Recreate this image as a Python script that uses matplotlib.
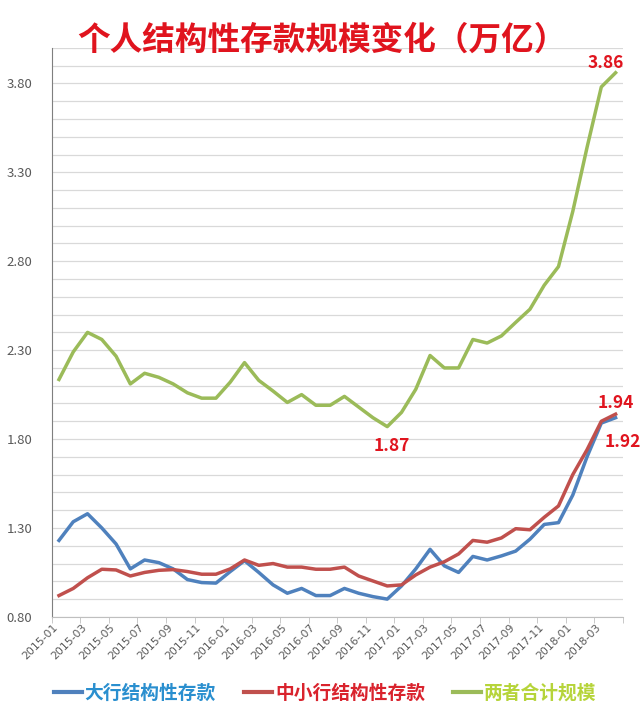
import matplotlib.pyplot as plt
from matplotlib.ticker import MultipleLocator, FixedLocator
import matplotlib.transforms as mtransforms

plt.rcParams['font.family'] = ['Noto Sans CJK SC', 'DejaVu Sans']

months = [f"{y}-{m:02d}" for y in range(2015, 2019) for m in range(1, 13)][:40]

big_banks = [1.23, 1.335, 1.38, 1.30, 1.21, 1.07, 1.12, 1.105, 1.07, 1.01,
             0.993, 0.99, 1.055, 1.116, 1.05, 0.98, 0.933, 0.96, 0.92, 0.92,
             0.96, 0.933, 0.914, 0.90, 0.974, 1.07, 1.18, 1.087, 1.05, 1.14,
             1.12, 1.143, 1.17, 1.237, 1.32, 1.33, 1.485, 1.70, 1.89, 1.92]
small_banks = [0.92, 0.96, 1.02, 1.068, 1.064, 1.03, 1.05, 1.062, 1.066, 1.055,
               1.04, 1.04, 1.07, 1.12, 1.09, 1.10, 1.08, 1.08, 1.068, 1.068,
               1.08, 1.03, 1.002, 0.974, 0.98, 1.036, 1.08, 1.11, 1.154, 1.23,
               1.22, 1.244, 1.296, 1.29, 1.36, 1.424, 1.60, 1.74, 1.90, 1.94]
total = [2.135, 2.29, 2.40, 2.36, 2.266, 2.11, 2.17, 2.147, 2.11, 2.06,
         2.03, 2.03, 2.12, 2.23, 2.13, 2.07, 2.006, 2.05, 1.99, 1.99,
         2.04, 1.98, 1.92, 1.87, 1.95, 2.08, 2.27, 2.20, 2.20, 2.36,
         2.34, 2.38, 2.456, 2.53, 2.665, 2.77, 3.08, 3.44, 3.78, 3.86]

series_names = ['大行结构性存款', '中小行结构性存款', '两者合计规模']
line_colors = ['#4f81bd', '#c0504d', '#9bbb59']
text_colors = ['#2a8fcf', '#d9232d', '#b6d43a']
red = '#e0141e'

fig = plt.figure(figsize=(6.4, 7.14), dpi=100)
ax = fig.add_axes([0.081, 0.136, 0.892, 0.797])

x = list(range(len(months)))
for vals, name, c in zip([big_banks, small_banks, total], series_names, line_colors):
    ax.plot(x, vals, color=c, lw=2.5, label=name)

ax.set_xlim(-0.5, len(months) - 0.5)
ax.set_ylim(0.8, 4.0)

ax.yaxis.set_minor_locator(MultipleLocator(0.1))
ax.set_yticks([0.8 + 0.5 * k for k in range(7)])
ax.set_yticklabels([f"{0.8 + 0.5 * k:.2f}" for k in range(7)])
ax.grid(axis='y', which='both', color='#d9d9d9', lw=0.9)
ax.set_axisbelow(True)
ax.tick_params(axis='y', which='both', length=0, pad=14, labelsize=9.5, labelcolor='#595959')

ax.set_xticks(x[::2])
ax.set_xticklabels(months[::2], rotation=45, ha='right', va='top',
                   rotation_mode='anchor', fontsize=7.8, color='#595959',
                   family='DejaVu Sans')
ax.xaxis.set_minor_locator(FixedLocator([i - 0.5 for i in range(0, len(months) + 1, 2)]))
ax.tick_params(axis='x', which='major', length=0, pad=4)
ax.tick_params(axis='x', which='minor', length=4, color='#bfbfbf')
offset = mtransforms.ScaledTranslation(-6 / 100, 0, fig.dpi_scale_trans)
for lbl in ax.get_xticklabels():
    lbl.set_transform(lbl.get_transform() + offset)

for side in ['top', 'right']:
    ax.spines[side].set_visible(False)
ax.spines['left'].set_color('#7f7f7f')
ax.spines['bottom'].set_color('#bfbfbf')

ann = dict(color=red, fontsize=12.5, fontweight='bold', ha='center', va='center',
           textcoords='offset pixels')
ax.annotate(f"{total[-1]:.2f}", (x[-1], total[-1]), xytext=(-10, 10), **ann)
imin = total.index(min(total))
ax.annotate(f"{total[imin]:.2f}", (x[imin], total[imin]), xytext=(5, -19), **ann)
ax.annotate(f"{small_banks[-1]:.2f}", (x[-1], small_banks[-1]), xytext=(0, 11), **ann)
ax.annotate(f"{big_banks[-1]:.2f}", (x[-1], big_banks[-1]), xytext=(7, -24), **ann)

fig.text(0.503, 0.944, '个人结构性存款规模变化（万亿）', ha='center', va='center',
         fontsize=23.5, fontweight='bold', color=red)

leg = fig.legend(loc='center', bbox_to_anchor=(0.508, 0.029), ncol=3, frameon=False,
                 handlelength=1.5, handletextpad=0.15, columnspacing=1.5,
                 prop={'size': 13.5, 'weight': 'bold'})
for t, c in zip(leg.get_texts(), text_colors):
    t.set_color(c)
for h in leg.legend_handles:
    h.set_linewidth(3)

fig.savefig('out.png', dpi=100)
